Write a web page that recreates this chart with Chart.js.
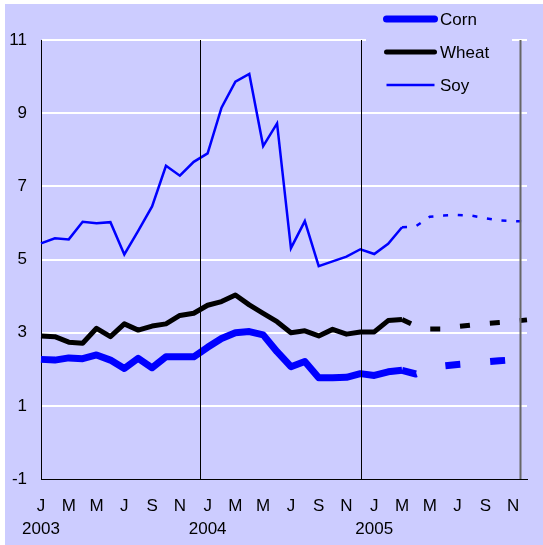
<!DOCTYPE html>
<html>
<head>
<meta charset="utf-8">
<script src="https://cdn.jsdelivr.net/npm/chart.js@4.4.0/dist/chart.umd.min.js"></script>
<style>
    html, body { margin: 0; padding: 0; background: #fff; width: 543px; height: 545px; overflow: hidden; }
    #contenedor { position: absolute; left: 5px; top: 4px; width: 538px; height: 541px; background: #ccccff; }
</style>
</head>
<body>
<div id="contenedor"><canvas id="grafico"></canvas></div>
<script>
let letrasMes = ["J","F","M","A","M","J","J","A","S","O","N","D"];
let anios = ["2003","2004","2005"];

// valores mensuales, ene 2003 - dic 2005
let corn = [2.27,2.25,2.31,2.29,2.39,2.25,2.02,2.30,2.04,2.34,2.34,2.34,
            2.60,2.84,3.00,3.03,2.94,2.48,2.07,2.21,1.77,1.77,1.78,1.88,
            1.83,1.93,1.97,1.87,2.00,2.09,2.13,2.16,2.20,2.23,2.26,2.29];
let wheat = [2.91,2.89,2.74,2.71,3.12,2.89,3.24,3.07,3.18,3.24,3.47,3.53,
             3.75,3.85,4.03,3.76,3.53,3.30,3.00,3.05,2.91,3.09,2.96,3.02,
             3.02,3.33,3.36,3.18,3.10,3.10,3.17,3.21,3.25,3.28,3.31,3.35];
let soy = [5.44,5.58,5.55,6.03,5.99,6.02,5.14,5.78,6.45,7.56,7.29,7.67,
           7.90,9.15,9.86,10.07,8.10,8.72,5.31,6.05,4.82,4.95,5.08,5.28,
           5.15,5.43,5.88,5.91,6.17,6.20,6.22,6.20,6.13,6.07,6.05,6.04];

let ultimoReal = 26;                      // mar 2005, despues es proyeccion
let separadores = [11.46, 23.03, 34.51];  // lineas verticales (en meses)

let categorias = [];
anios.forEach(a => letrasMes.forEach(m => categorias.push(m + " " + a)));

let fuente = { family: "'Liberation Sans', Arial, sans-serif", size: 17 };

function guion(patron) {
    return ctx => ctx.p0DataIndex >= ultimoReal ? patron : undefined;
}

let pluginExtras = {
    id: "extras",
    afterDatasetsDraw(chart) {
        let ctx = chart.ctx;
        let area = chart.chartArea;
        let x = chart.scales.x;
        ctx.save();
        separadores.forEach((s, i) => {
            let px = Math.round(x.getPixelForValue(s)) + 0.5;
            ctx.strokeStyle = i < 2 ? "#000" : "#666";
            ctx.lineWidth = i < 2 ? 1 : 2;
            ctx.beginPath();
            ctx.moveTo(px, area.top);
            ctx.lineTo(px, area.bottom);
            ctx.stroke();
        });
        ctx.restore();
    },
    afterDraw(chart) {
        // leyenda encima del area del grafico
        let ctx = chart.ctx;
        ctx.save();
        ctx.fillStyle = "#ccccff";
        ctx.fillRect(361, 0, 146, 96);
        chart.data.datasets.forEach((ds, i) => {
            let y = 15 + i * 33;
            ctx.strokeStyle = ds.borderColor;
            ctx.lineWidth = ds.borderWidth;
            ctx.lineCap = i < 2 ? "round" : "butt";
            ctx.beginPath();
            ctx.moveTo(381.5, y);
            ctx.lineTo(429.5, y);
            ctx.stroke();
            ctx.fillStyle = "#000";
            ctx.font = "17px 'Liberation Sans', Arial, sans-serif";
            ctx.textBaseline = "middle";
            ctx.fillText(ds.label, 435, y + 1);
        });
        ctx.restore();
    }
};

new Chart(document.getElementById("grafico"), {
    type: "line",
    data: {
        labels: categorias,
        datasets: [
            {
                label: "Corn", data: corn, borderColor: "#0000ff", borderWidth: 7,
                borderJoinStyle: "round", segment: { borderDash: guion([15, 30]) }
            },
            {
                label: "Wheat", data: wheat, borderColor: "#000000", borderWidth: 5,
                borderJoinStyle: "round", segment: { borderDash: guion([10, 20]) }
            },
            {
                label: "Soy", data: soy, borderColor: "#0000ff", borderWidth: 2.5,
                segment: { borderDash: guion([5, 9.7]) }
            }
        ]
    },
    options: {
        responsive: true,
        maintainAspectRatio: false,
        animation: false,
        elements: { point: { radius: 0 }, line: { tension: 0 } },
        layout: { padding: { top: 36, right: 16, left: 0, bottom: 0 } },
        plugins: { legend: { display: false }, tooltip: { enabled: false } },
        scales: {
            x: {
                offset: false,
                grid: { display: false, drawTicks: false },
                border: { display: true, color: "#000", width: 1 },
                afterFit: s => { s.height = 66; },
                ticks: {
                    autoSkip: false, maxRotation: 0, padding: 15, color: "#000",
                    font: { ...fuente, lineHeight: 1.4 },
                    callback: function (valor, i) {
                        if (i % 2) return null;
                        let letra = letrasMes[i % 12];
                        return i % 12 === 0 ? [letra, anios[i / 12]] : letra;
                    }
                }
            },
            y: {
                min: -1, max: 11,
                grid: {
                    color: c => c.tick && c.tick.value === -1 ? "rgba(0,0,0,0)" : "#ffffff",
                    lineWidth: 2, drawTicks: false
                },
                border: { display: true, color: "#000", width: 1 },
                afterFit: s => { s.width = 36; },
                ticks: { stepSize: 2, padding: 14, color: "#000", font: fuente }
            }
        }
    },
    plugins: [pluginExtras]
});
</script>
</body>
</html>
